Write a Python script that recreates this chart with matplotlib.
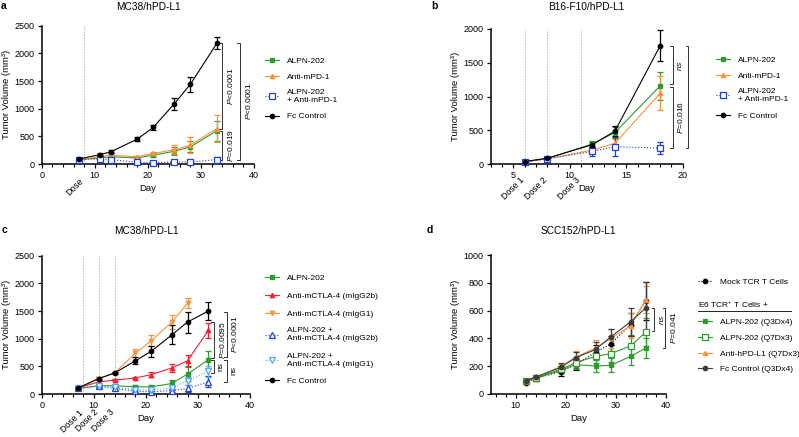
import matplotlib
matplotlib.use("Agg")
import matplotlib.pyplot as plt
from matplotlib.lines import Line2D
from matplotlib.container import ErrorbarContainer

plt.rcParams['font.family'] = ['Liberation Sans', 'DejaVu Sans']
plt.rcParams['mathtext.fontset'] = 'custom'
plt.rcParams['mathtext.rm'] = 'Liberation Sans'
plt.rcParams['mathtext.it'] = 'Liberation Sans:italic'
plt.rcParams['font.size'] = 6.5

GREEN = "#2f9a2f"
ORANGE = "#fb923a"
BLUE = "#1f3fd8"
LBLUE = "#55aaff"
RED = "#ee2233"
BLACK = "#000000"
GREY = "#3c3c3c"

# ---- panel a : MC38/hPD-L1
a_days = [7, 11, 13, 18, 21, 25, 28, 33]
a_alpn = [80, 110, 130, 110, 160, 230, 310, 600]
a_alpn_err = [15, 25, 30, 25, 40, 70, 100, 180]
a_pd1 = [80, 130, 160, 130, 190, 260, 340, 640]
a_pd1_err = [15, 25, 30, 20, 35, 80, 140, 240]
a_combo = [80, 90, 80, 30, 20, 40, 35, 80]
a_combo_err = [15, 15, 15, 10, 10, 15, 10, 40]
a_fc = [90, 170, 220, 450, 660, 1090, 1440, 2180]
a_fc_err = [20, 30, 25, 35, 50, 110, 130, 110]
a_dose = [8]
a_dose_lbl = ["Dose"]

# ---- panel b : B16-F10/hPD-L1
b_days = [6, 8, 12, 14, 18]
b_alpn = [40, 85, 300, 470, 1160]
b_alpn_err = [10, 15, 40, 80, 210]
b_pd1 = [35, 80, 210, 310, 1050]
b_pd1_err = [10, 10, 40, 70, 250]
b_combo = [40, 80, 190, 260, 240]
b_combo_err = [10, 15, 60, 140, 90]
b_fc = [40, 90, 290, 490, 1750]
b_fc_err = [10, 15, 40, 70, 230]
b_dose = [6, 8, 11]
b_dose_lbl = ["Dose 1", "Dose 2", "Dose 3"]

# ---- panel c : MC38/hPD-L1 (CTLA-4)
c_days = [7, 11, 14, 18, 21, 25, 28, 32]
c_alpn = [100, 150, 150, 130, 130, 190, 360, 620]
c_alpn_err = [20, 25, 30, 30, 40, 70, 120, 160]
c_ctla2b = [110, 220, 250, 290, 350, 470, 600, 1150]
c_ctla2b_err = [20, 25, 20, 25, 50, 80, 100, 140]
c_days1 = [7, 11, 14, 18, 21, 25, 28]
c_ctla1 = [110, 280, 380, 740, 960, 1300, 1640]
c_ctla1_err = [20, 25, 25, 70, 100, 120, 90]
c_combo2b = [100, 140, 100, 50, 40, 60, 100, 220]
c_combo2b_err = [20, 25, 20, 20, 15, 30, 60, 100]
c_combo1 = [110, 150, 120, 80, 70, 110, 240, 410]
c_combo1_err = [20, 25, 20, 20, 20, 40, 70, 100]
c_fc = [110, 280, 380, 600, 770, 1070, 1300, 1500]
c_fc_err = [20, 20, 20, 60, 100, 170, 190, 160]
c_dose = [8, 11, 14]
c_dose_lbl = ["Dose 1", "Dose 2", "Dose 3"]

# ---- panel d : SCC152/hPD-L1
d_days = [12, 14, 19, 22, 26, 29, 33, 36]
d_mock = [80, 110, 160, 210, 300, 360, 500, 670]
d_mock_err = [10, 15, 30, 40, 50, 60, 80, 140]
d_alpn_q3 = [90, 110, 170, 210, 200, 205, 270, 330]
d_alpn_q3_err = [10, 15, 20, 30, 40, 50, 60, 70]
d_alpn_q7 = [90, 115, 175, 225, 270, 290, 345, 445]
d_alpn_q7_err = [10, 15, 20, 40, 50, 60, 80, 100]
d_pdl1 = [95, 120, 195, 265, 330, 400, 490, 680]
d_pdl1_err = [10, 15, 20, 40, 60, 70, 90, 100]
d_fc = [95, 120, 190, 260, 320, 410, 520, 620]
d_fc_err = [10, 15, 30, 40, 50, 60, 100, 190]

# stat brackets: x, top, bottom, text
a_stats = [(34.0, 2180, 640, "$P$<0.0001"), (34.0, 600, 80, "$P$=0.019"),
           (37.4, 2180, 80, "$P$<0.0001")]
b_stats = [(19.1, 1750, 1180, "$ns$"), (19.1, 1140, 240, "$P$=0.016"),
           (20.5, 1750, 240, "$P$<0.0001")]
c_stats = [(33.1, 1300, 645, "$P$=0.0095"), (33.1, 615, 375, "ns"),
           (35.5, 1490, 675, "$P$<0.0001"), (35.5, 615, 220, "ns")]
d_stats = [(37.7, 620, 450, "$ns$"), (39.9, 620, 330, "$P$=0.041")]

W, H = 799, 437
fig = plt.figure(figsize=(W / 100, H / 100), dpi=100)


def px_axes(l, t, r, b):
    return fig.add_axes([l / W, 1 - b / H, (r - l) / W, (b - t) / H])


def series(ax, x, y, e, color, marker, ls='-', mfc=None, label=None, ms=3.2):
    ax.errorbar(x, y, yerr=e, color=color, ls=ls, lw=0.8, marker=marker, ms=ms,
                mfc=mfc if mfc else color, mec=color, mew=0.9, capsize=2.2,
                elinewidth=0.9, capthick=0.9, label=label, clip_on=False, zorder=3)


def style(ax, xlim, ylim, xmaj, xmin, ymaj):
    ax.set_xlim(*xlim)
    ax.set_ylim(*ylim)
    ax.set_xticks(xmaj)
    ax.set_xticks(xmin, minor=True)
    ax.set_yticks(ymaj)
    for s in ['top', 'right']:
        ax.spines[s].set_visible(False)
    for s in ['left', 'bottom']:
        ax.spines[s].set_linewidth(1.1)
    ax.tick_params(which='major', length=3, width=0.9, labelsize=6.5, pad=2)
    ax.tick_params(which='minor', length=2, width=0.8)
    ax.set_ylabel("Tumor Volume (mm³)", fontsize=6.8, labelpad=3)
    ax.set_xlabel("Day", fontsize=6.8, labelpad=3)


def doses(ax, xs, lbls, off):
    for x, l in zip(xs, lbls):
        ax.axvline(x, color="#b5b5b5", lw=0.7, ls=(0, (1.5, 1.5)), zorder=1)
        ax.annotate(l, xy=(x, 0), xycoords=('data', 'axes fraction'),
                    xytext=(1, off), textcoords='offset points',
                    rotation=45, ha='right', va='top', fontsize=6.3)


def brackets(ax, stats):
    x0, x1 = ax.get_xlim()
    t = 0.014 * (x1 - x0)
    for x, y1, y2, txt in stats:
        ax.plot([x - t, x, x, x - t], [y1, y1, y2, y2], color='#333333', lw=0.7,
                clip_on=False, zorder=2)
        ax.annotate(txt, xy=(x, (y1 + y2) / 2), xytext=(2.5, 0),
                    textcoords='offset points', rotation=90, ha='left',
                    va='center', fontsize=6)


def legend(ax, x, y, handles=None, labels=None, spacing=1.0, **kw):
    if handles is None:
        handles, labels = ax.get_legend_handles_labels()
    handles = [h[0] if isinstance(h, ErrorbarContainer) else h for h in handles]
    return ax.legend(handles, labels, loc='upper left',
                     bbox_to_anchor=(x / W, 1 - y / H),
                     bbox_transform=fig.transFigure, frameon=False, fontsize=6,
                     handlelength=1.7, handletextpad=0.9, labelspacing=spacing,
                     borderpad=0, borderaxespad=0, **kw)


# ---------------- a
ax = px_axes(41.7, 25.7, 254, 164)
doses(ax, a_dose, a_dose_lbl, -9)
series(ax, a_days, a_alpn, a_alpn_err, GREEN, 's', label="ALPN-202")
series(ax, a_days, a_pd1, a_pd1_err, ORANGE, '^', label="Anti-mPD-1")
series(ax, a_days, a_combo, a_combo_err, BLUE, 's', ls=':', mfc='white',
       label="ALPN-202\n+ Anti-mPD-1", ms=3.8)
series(ax, a_days, a_fc, a_fc_err, BLACK, 'o', label="Fc Control")
style(ax, (0, 40), (0, 2500), range(0, 41, 10), range(0, 41, 2), range(0, 2501, 500))
brackets(ax, a_stats)
legend(ax, 265, 57, spacing=1.0)
fig.text(148 / W, 1 - 7 / H, "MC38/hPD-L1", ha='center', va='center', fontsize=7.3)
fig.text(1 / W, 1 - 6 / H, "a", ha='left', va='center', fontsize=7.5, weight='bold')

# ---------------- b
ax = px_axes(490.7, 29, 682.7, 164.3)
doses(ax, b_dose, b_dose_lbl, -8)
series(ax, b_days, b_alpn, b_alpn_err, GREEN, 's', label="ALPN-202")
series(ax, b_days, b_pd1, b_pd1_err, ORANGE, '^', label="Anti-mPD-1")
series(ax, b_days, b_combo, b_combo_err, BLUE, 's', ls=':', mfc='white',
       label="ALPN-202\n+ Anti-mPD-1", ms=3.8)
series(ax, b_days, b_fc, b_fc_err, BLACK, 'o', label="Fc Control")
style(ax, (3, 20), (0, 2000), range(5, 21, 5), range(3, 21, 1), range(0, 2001, 500))
brackets(ax, b_stats)
legend(ax, 716, 56, spacing=1.0)
fig.text(586 / W, 1 - 7 / H, "B16-F10/hPD-L1", ha='center', va='center', fontsize=7.3)
fig.text(431 / W, 1 - 6 / H, "b", ha='left', va='center', fontsize=7.5, weight='bold')

# ---------------- c
ax = px_axes(41.7, 255.7, 250, 394)
doses(ax, c_dose, c_dose_lbl, -10)
series(ax, c_days, c_alpn, c_alpn_err, GREEN, 's', label="ALPN-202")
series(ax, c_days, c_ctla2b, c_ctla2b_err, RED, '^', label="Anti-mCTLA-4 (mIgG2b)")
series(ax, c_days1, c_ctla1, c_ctla1_err, ORANGE, 'v', label="Anti-mCTLA-4 (mIgG1)")
series(ax, c_days, c_combo2b, c_combo2b_err, BLUE, '^', ls=':', mfc='white',
       label="ALPN-202 +\nAnti-mCTLA-4 (mIgG2b)", ms=3.8)
series(ax, c_days, c_combo1, c_combo1_err, LBLUE, 'v', ls=':', mfc='white',
       label="ALPN-202 +\nAnti-mCTLA-4 (mIgG1)", ms=3.8)
series(ax, c_days, c_fc, c_fc_err, BLACK, 'o', label="Fc Control")
style(ax, (0, 40), (0, 2500), range(0, 41, 10), range(0, 41, 2), range(0, 2501, 500))
brackets(ax, c_stats)
legend(ax, 265, 274, spacing=1.2)
fig.text(146 / W, 1 - 230.5 / H, "MC38/hPD-L1", ha='center', va='center', fontsize=7.3)
fig.text(2 / W, 1 - 230 / H, "c", ha='left', va='center', fontsize=7.5, weight='bold')

# ---------------- d
ax = px_axes(490.7, 255.3, 665.7, 393.7)
series(ax, d_days, d_mock, d_mock_err, BLACK, 'o', ls=':', label="Mock TCR T Cells")
series(ax, d_days, d_alpn_q3, d_alpn_q3_err, GREEN, 's', label="ALPN-202 (Q3Dx4)")
series(ax, d_days, d_alpn_q7, d_alpn_q7_err, GREEN, 's', mfc='white',
       label="ALPN-202 (Q7Dx3)", ms=3.8)
series(ax, d_days, d_pdl1, d_pdl1_err, ORANGE, '^', label="Anti-hPD-L1 (Q7Dx3)")
series(ax, d_days, d_fc, d_fc_err, GREY, 'o', label="Fc Control (Q3Dx4)")
style(ax, (5, 40), (0, 1000), range(10, 41, 10), range(6, 41, 2), range(0, 1001, 200))
brackets(ax, d_stats)
h, l = ax.get_legend_handles_labels()
lg1 = legend(ax, 698, 278, handles=h[:1], labels=l[:1])
ax.add_artist(lg1)
lg2 = legend(ax, 698, 300, handles=h[1:], labels=l[1:], spacing=0.95,
             title="E6 TCR$^{+}$ T Cells +", title_fontsize=6, alignment='left')
fig.add_artist(Line2D([697.7 / W, 790.7 / W], [1 - 310.5 / H, 1 - 310.5 / H],
                      color='black', lw=0.6))
fig.text(578 / W, 1 - 230.5 / H, "SCC152/hPD-L1", ha='center', va='center', fontsize=7.3)
fig.text(427 / W, 1 - 230 / H, "d", ha='left', va='center', fontsize=7.5, weight='bold')

fig.savefig("out.png", dpi=100)
